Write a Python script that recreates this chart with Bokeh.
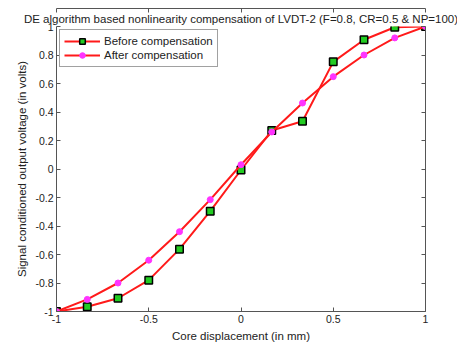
from bokeh.plotting import figure
from bokeh.models import LinearAxis, FixedTicker, Range1d, Title, Legend, LegendItem
from bokeh.embed import file_html
from bokeh.resources import INLINE

x = [-1, -5/6, -2/3, -0.5, -1/3, -1/6, 0, 1/6, 1/3, 0.5, 2/3, 5/6, 1]
before = [-1, -0.967, -0.907, -0.78, -0.5625, -0.296, -0.007, 0.27, 0.335, 0.752, 0.907, 0.995, 1]
after = [-1, -0.915, -0.80, -0.64, -0.44, -0.215, 0.03, 0.26, 0.463, 0.648, 0.80, 0.92, 1]

xticks = [-1, -0.5, 0, 0.5, 1]
xlabels = ["-1", "-0.5", "0", "0.5", "1"]
yticks = [-1, -0.8, -0.6, -0.4, -0.2, 0, 0.2, 0.4, 0.6, 0.8, 1]
ylabels = ["-1", "-0.8", "-0.6", "-0.4", "-0.2", "0", "0.2", "0.4", "0.6", "0.8", "1"]

FONT = "Liberation Sans"
TXT = "#222222"
AX = "#555555"

p = figure(width=457, height=344, output_backend="svg", toolbar_location=None,
           x_range=Range1d(-1, 1), y_range=Range1d(-1, 1),
           min_border_left=56, min_border_right=32, min_border_top=26, min_border_bottom=30,
           x_axis_location=None, y_axis_location=None)
p.outline_line_color = None
p.grid.visible = False

t = Title(text="DE algorithm based nonlinearity compensation of LVDT-2 (F=0.8, CR=0.5 & NP=100)",
          align="center", text_font=FONT, text_font_size="11.5px", text_font_style="normal",
          text_color=TXT, standoff=4)
p.add_layout(t, "above")

def mk_axis(ticks, labels, show_labels, axis_label=None):
    a = LinearAxis(ticker=FixedTicker(ticks=ticks))
    a.major_tick_in = 4
    a.major_tick_out = 0
    a.minor_tick_line_color = None
    a.axis_line_color = AX
    a.major_tick_line_color = AX
    a.major_label_text_font = FONT
    a.major_label_text_font_size = "10.5px"
    a.major_label_text_color = TXT
    if show_labels:
        a.major_label_overrides = {tk: lb for tk, lb in zip(ticks, labels)}
        a.major_label_standoff = 3
    else:
        a.major_label_overrides = {tk: "" for tk in ticks}
        a.major_label_standoff = 0
    if axis_label:
        a.axis_label = axis_label
        a.axis_label_text_font = FONT
        a.axis_label_text_font_size = "11.5px"
        a.axis_label_text_font_style = "normal"
        a.axis_label_text_color = TXT
        a.axis_label_standoff = 4
    return a

p.add_layout(mk_axis(xticks, xlabels, True, "Core displacement (in mm)"), "below")
p.add_layout(mk_axis(yticks, ylabels, True, "Signal conditioned output voltage (in volts)"), "left")
p.add_layout(mk_axis(xticks, xlabels, False), "above")
p.add_layout(mk_axis(yticks, ylabels, False), "right")

l1 = p.line(x, before, line_color="#ff1a1a", line_width=2)
s1 = p.scatter(x, before, marker="square", size=7.5, fill_color="#22cc22", line_color="black", line_width=1.5)
l2 = p.line(x, after, line_color="#ff1a1a", line_width=2)
s2 = p.scatter(x, after, marker="circle", size=6, fill_color="#ff33ff", line_color="#ff33ff")

leg = Legend(items=[LegendItem(label="Before compensation", renderers=[l1, s1]),
                    LegendItem(label="After compensation", renderers=[l2, s2])],
             location="top_left")
leg.label_text_font = FONT
leg.label_text_font_size = "11.5px"
leg.label_text_color = TXT
leg.border_line_color = "#444444"
leg.border_line_width = 1.5
leg.background_fill_alpha = 1
leg.glyph_width = 36
leg.glyph_height = 14
leg.label_height = 14
leg.spacing = 0
leg.padding = 4
leg.margin = 3
leg.label_standoff = 4
p.add_layout(leg, "center")

open("out.html", "w").write(file_html(p, INLINE))
